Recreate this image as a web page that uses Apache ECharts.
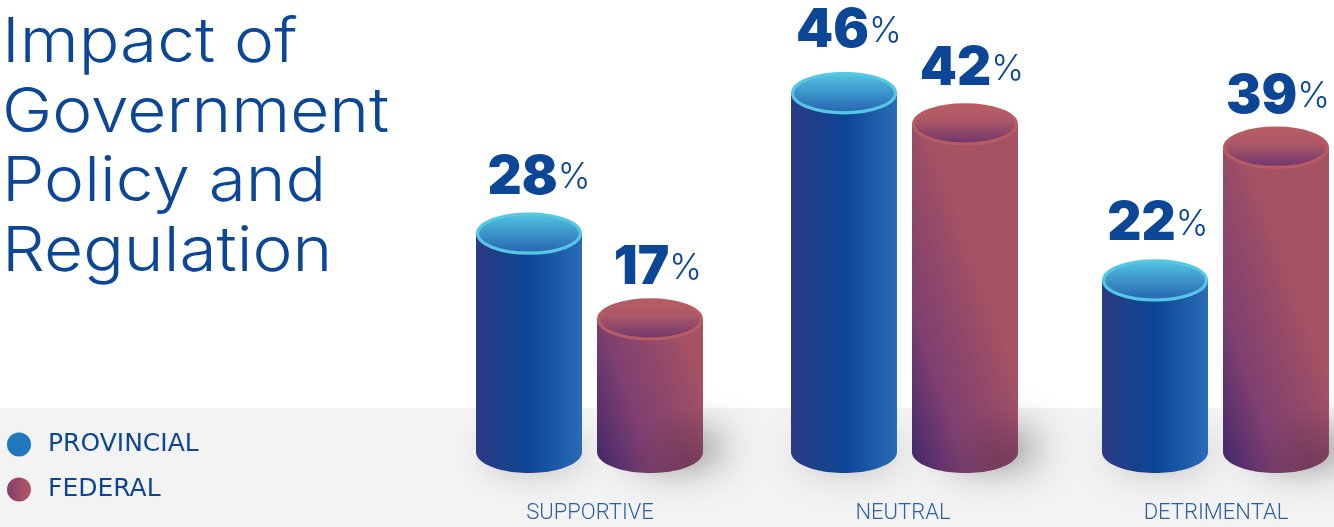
<!DOCTYPE html>
<html>
<head>
<meta charset="utf-8">
<style>html,body{margin:0;padding:0;background:#fff}#chart{width:1334px;height:527px}</style>
<script src="https://cdn.jsdelivr.net/npm/echarts@6/dist/echarts.min.js"></script>
</head>
<body>
<div id="chart"></div>
<script>
const categories = ['SUPPORTIVE', 'NEUTRAL', 'DETRIMENTAL'];
const provincial = [28, 46, 22];
const federal = [17, 42, 39];

const RX = 53, RY = 21, PAIR = 60.5;
const INK = '#0b4697';
const groupNudge = [-0.5, 1.5, -0.5];
// Label placement relative to each cylinder, per side and category.
const labelDx = { '-1': [10, 5, 3], '1': [8, 7, 2] };
const labelGap = { '-1': [18, 24, 18], '1': [13, 17, 13] };

// Lower half of an ellipse joined to the top corners gives the cylinder wall.
function wallPoints(cx, top, base) {
  const pts = [[cx - RX, top]];
  for (let i = 0; i <= 48; i++) {
    const a = Math.PI - (i / 48) * Math.PI;
    pts.push([cx + RX * Math.cos(a), base + RY * Math.sin(a)]);
  }
  pts.push([cx + RX, top]);
  return pts;
}

function cylinder(side, look) {
  return function (params, api) {
    const idx = api.value(0);
    const val = api.value(1);
    const topPt = api.coord([idx, val]);
    const basePt = api.coord([idx, 0]);
    const cx = topPt[0] + side * PAIR + groupNudge[idx];
    const top = topPt[1], base = basePt[1];
    const children = [
      {
        type: 'ellipse', silent: true,
        shape: { cx: cx, cy: base - 2, rx: RX - 4, ry: RY - 3 },
        style: {
          fill: look.shadowBase,
          shadowBlur: look.shadowBlur, shadowOffsetX: look.shadowX, shadowOffsetY: look.shadowY,
          shadowColor: look.shadowColor
        }
      },
      { type: 'polygon', shape: { points: wallPoints(cx, top, base) }, style: { fill: look.wall(cx, base) } }
    ];
    if (look.shade) {
      children.push({
        type: 'polygon', silent: true,
        shape: { points: wallPoints(cx, top, base) },
        style: { fill: look.shade(cx, base) }
      });
    }
    children.push({
      type: 'ellipse',
      shape: { cx: cx, cy: top, rx: RX - 1.6, ry: RY - 1.4 },
      style: {
        fill: new echarts.graphic.LinearGradient(0, 0, 0, 1, look.cap),
        stroke: look.rim, lineWidth: 3.2
      }
    });
    children.push({
      type: 'text',
      x: cx + labelDx[side][idx], y: top - RY - labelGap[side][idx] + 8,
      style: {
        text: '{n|' + val + '}{p|%}',
        align: 'center', verticalAlign: 'bottom',
        rich: {
          n: { fontFamily: 'Inter', fontWeight: 900, fontSize: 53, fill: INK, lineHeight: 50 },
          p: { fontFamily: 'Inter', fontWeight: 300, fontSize: 35, fill: INK, lineHeight: 50 }
        }
      }
    });
    return { type: 'group', children: children };
  };
}

const blueLook = {
  wall: () => new echarts.graphic.LinearGradient(0, 0, 1, 0, [
    { offset: 0, color: '#2b3a82' },
    { offset: 0.5, color: '#0c4596' },
    { offset: 1, color: '#2a6cb6' }
  ]),
  cap: [{ offset: 0, color: '#54c8e3' }, { offset: 0.85, color: '#2b6fb6' }, { offset: 1, color: '#2a6bb4' }],
  rim: '#55c6e3',
  shadowBase: '#1a4a97',
  shadowColor: 'rgba(0,0,0,0.24)',
  shadowBlur: 34, shadowX: 5, shadowY: 3
};

const redLook = {
  wall: (cx, base) => new echarts.graphic.LinearGradient(
    cx - RX, base + 5, cx + 65, base - 37,
    [
      { offset: 0, color: '#45286b' },
      { offset: 0.4, color: '#7f4070' },
      { offset: 0.8, color: '#964b68' },
      { offset: 1, color: '#a55263' }
    ], true),
  shade: (cx, base) => new echarts.graphic.RadialGradient(
    cx + 38, base + 14, 58,
    [
      { offset: 0, color: 'rgba(104,54,82,0.7)' },
      { offset: 1, color: 'rgba(104,54,82,0)' }
    ], true),
  cap: [{ offset: 0, color: '#b85d64' }, { offset: 0.4, color: '#ad5866' }, { offset: 1, color: '#6b3370' }],
  rim: '#b75c63',
  shadowBase: '#7a3f6c',
  shadowColor: 'rgba(0,0,0,0.45)',
  shadowBlur: 38, shadowX: 26, shadowY: -2
};

const chart = echarts.init(document.getElementById('chart'), null, { renderer: 'canvas' });
chart.setOption({
  animation: false,
  backgroundColor: '#ffffff',
  graphic: [
    {
      type: 'rect', z: -10, silent: true,
      shape: { x: 0, y: 408, width: 1334, height: 119 },
      style: { fill: '#f3f3f3' }
    },
    {
      type: 'text', left: 2, top: 9, scaleX: 1.09,
      style: {
        text: 'Impact of\nGovernment\nPolicy and\nRegulation',
        fontFamily: 'Inter', fontWeight: 300, fontSize: 62, lineHeight: 69.5, fill: INK
      }
    }
  ],
  legend: {
    orient: 'vertical', left: 2, top: 427,
    itemWidth: 24, itemHeight: 24, itemGap: 20,
    icon: 'circle',
    textStyle: { fontFamily: 'DejaVu Sans', fontSize: 25, color: INK, padding: [0, 0, 0, 12] },
    data: ['PROVINCIAL', 'FEDERAL']
  },
  grid: { left: 590, top: 23, width: 626, height: 429 },
  xAxis: {
    type: 'category', data: categories, boundaryGap: false,
    axisLine: { show: false }, axisTick: { show: false },
    axisLabel: { margin: 50, interval: 0, fontFamily: 'Roboto', fontWeight: 300, fontSize: 22, color: '#2a5fa8' }
  },
  yAxis: { type: 'value', min: 0, max: 55, show: false },
  series: [
    {
      name: 'PROVINCIAL', type: 'custom', renderItem: cylinder(-1, blueLook),
      itemStyle: { color: '#1f78bd' },
      clip: false,
      encode: { x: 0, y: 1 },
      data: provincial.map((v, i) => [i, v])
    },
    {
      name: 'FEDERAL', type: 'custom', renderItem: cylinder(1, redLook),
      itemStyle: {
        color: new echarts.graphic.LinearGradient(0, 0, 1, 0, [
          { offset: 0, color: '#823e6c' }, { offset: 1, color: '#b45862' }
        ])
      },
      clip: false,
      encode: { x: 0, y: 1 },
      data: federal.map((v, i) => [i, v])
    }
  ]
});
</script>
</body>
</html>
